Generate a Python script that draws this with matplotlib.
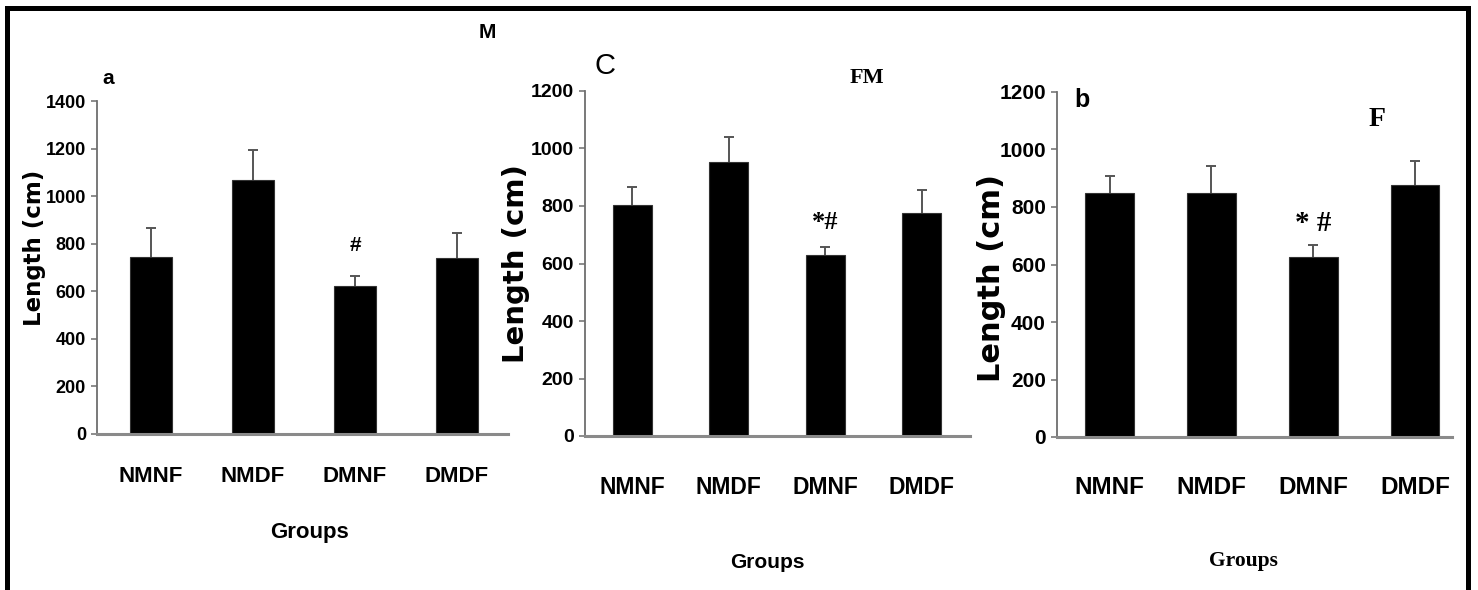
import numpy as np
import matplotlib
matplotlib.use("Agg")
import matplotlib.pyplot as plt
from matplotlib.lines import Line2D

# ---------------- data ----------------
groups = ["NMNF", "NMDF", "DMNF", "DMDF"]

m_means = [745, 1068, 622, 740]
m_errs = [119, 128, 42, 105]

fm_means = [803, 952, 630, 775]
fm_errs = [63, 87, 27, 79]

f_means = [850, 850, 625, 877]
f_errs = [59, 94, 44, 83]

m_yticks = [0, 200, 400, 600, 800, 1000, 1200, 1400]
fm_yticks = [0, 200, 400, 600, 800, 1000, 1200]
f_yticks = [0, 200, 400, 600, 800, 1000, 1200]

# ---------------- layout ----------------
W, H = 1478, 590
fig = plt.figure(figsize=(W / 100, H / 100), dpi=100)
fig.patch.set_facecolor("white")

SANS = ["Liberation Sans", "DejaVu Sans"]
SERIF = ["Liberation Serif", "DejaVu Serif"]
WIDE = ["DejaVu Sans"]


def px_axes(left, right, bottom, top):
    return fig.add_axes([left / W, 1 - bottom / H, (right - left) / W, (bottom - top) / H])


def fx(x):
    return x / W


def fy(y):
    return 1 - y / H


def style_axes(ax, yticks, ytick_size, xtick_size, xpad):
    for s in ["top", "right"]:
        ax.spines[s].set_visible(False)
    ax.spines["left"].set_color("#6e6e6e")
    ax.spines["left"].set_linewidth(1.3)
    ax.spines["bottom"].set_color("#8a8a8a")
    ax.spines["bottom"].set_linewidth(2.2)
    ax.set_yticks(yticks)
    ax.set_yticklabels([str(v) for v in yticks], fontfamily=SANS,
                       fontweight="bold", fontsize=ytick_size)
    ax.set_xticks(range(len(groups)))
    ax.set_xticklabels(groups, fontfamily=SANS, fontweight="bold", fontsize=xtick_size)
    ax.tick_params(axis="y", direction="out", length=4, width=1.1, color="#6e6e6e", pad=4)
    ax.tick_params(axis="x", length=0, pad=xpad)
    ax.set_facecolor("none")


def draw_bars(ax, means, errs, width):
    x = np.arange(len(means))
    ax.bar(x, means, width=width, color="black", edgecolor="#333333", linewidth=0.8, zorder=2)
    _, caps, _ = ax.errorbar(x, means, yerr=[np.zeros(len(errs)), errs], fmt="none",
                             ecolor="#555555", elinewidth=1.4, capsize=3.5, capthick=1.4, zorder=1)
    if len(caps) == 2:
        caps[0].set_visible(False)


# ---- panel 1 (M) ----
ax1 = px_axes(97, 508, 434, 101)
draw_bars(ax1, m_means, m_errs, 0.41)
ax1.set_xlim(-0.53, 3.5)
ax1.set_ylim(0, 1400)
style_axes(ax1, m_yticks, 13, 16, 23)
ax1.set_xlabel("Groups", fontfamily=SANS, fontweight="bold", fontsize=16, va="center")
ax1.xaxis.set_label_coords(0.518, -0.297)
ax1.set_ylabel("Length (cm)", fontfamily=WIDE, fontweight="bold", fontsize=16.5, va="center")
ax1.yaxis.set_label_coords(-0.153, 0.559)
ax1.annotate("#", xy=(2, m_means[2] + m_errs[2]), xytext=(0, 22), textcoords="offset points",
             ha="center", va="center", fontfamily=SANS, fontweight="bold", fontsize=15)

# ---- panel 2 (FM) ----
ax2 = px_axes(585, 970, 436, 91)
draw_bars(ax2, fm_means, fm_errs, 0.40)
ax2.set_xlim(-0.49, 3.5)
ax2.set_ylim(0, 1200)
style_axes(ax2, fm_yticks, 14, 16.5, 29)
ax2.set_xlabel("Groups", fontfamily=SANS, fontweight="bold", fontsize=15, va="center")
ax2.xaxis.set_label_coords(0.473, -0.368)
ax2.set_ylabel("Length (cm)", fontfamily=WIDE, fontweight="bold", fontsize=21, va="center")
ax2.yaxis.set_label_coords(-0.179, 0.501)
ax2.annotate("*#", xy=(2, fm_means[2] + fm_errs[2]), xytext=(0, 18), textcoords="offset points",
             ha="center", va="center", fontfamily=SERIF, fontweight="bold", fontsize=19)

# ---- panel 3 (F) ----
ax3 = px_axes(1057, 1452, 437, 92)
draw_bars(ax3, f_means, f_errs, 0.48)
ax3.set_xlim(-0.516, 3.364)
ax3.set_ylim(0, 1200)
style_axes(ax3, f_yticks, 15, 17.5, 28)
ax3.set_xlabel("Groups", fontfamily=SERIF, fontweight="bold", fontsize=15.5, va="center")
ax3.xaxis.set_label_coords(0.471, -0.359)
ax3.set_ylabel("Length (cm)", fontfamily=WIDE, fontweight="bold", fontsize=22, va="center")
ax3.yaxis.set_label_coords(-0.165, 0.461)
ax3.annotate("* #", xy=(2, f_means[2] + f_errs[2]), xytext=(0, 15), textcoords="offset points",
             ha="center", va="center", fontfamily=SERIF, fontweight="bold", fontsize=21)

# ---- panel letters / titles ----
fig.text(fx(108), fy(79), "a", ha="center", va="center", fontfamily=SANS, fontweight="bold", fontsize=15)
fig.text(fx(487), fy(32), "M", ha="center", va="center", fontfamily=SANS, fontweight="bold", fontsize=15)
fig.text(fx(605), fy(66), "C", ha="center", va="center", fontfamily=SANS, fontsize=21)
fig.text(fx(867), fy(78), "FM", ha="center", va="center", fontfamily=SERIF, fontweight="bold", fontsize=16)
fig.text(fx(1082), fy(100), "b", ha="center", va="center", fontfamily=SANS, fontweight="bold", fontsize=18)
fig.text(fx(1377), fy(120), "F", ha="center", va="center", fontfamily=SERIF, fontweight="bold", fontsize=20)

# ---- outer frame (open at the bottom) ----
lw = 5 * 72 / 100
frame_x = [fx(6.5), fx(6.5), fx(1467.5), fx(1467.5)]
frame_y = [fy(600), fy(7.5), fy(7.5), fy(600)]
fig.add_artist(Line2D(frame_x, frame_y, transform=fig.transFigure, color="black",
                      linewidth=lw, solid_joinstyle="miter", solid_capstyle="projecting"))

fig.savefig("out.png", dpi=100, facecolor="white")
